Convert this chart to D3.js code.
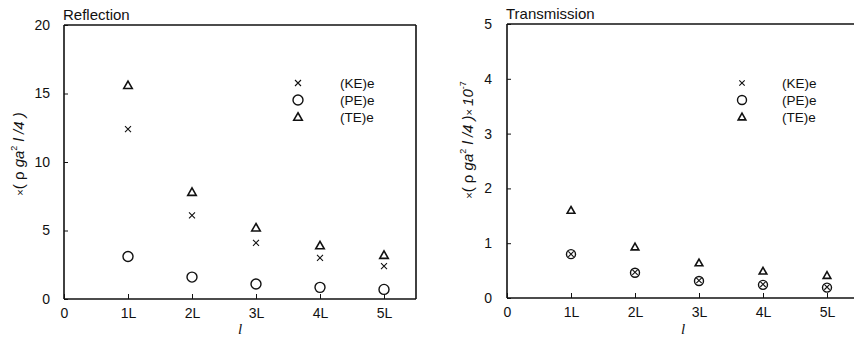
<!DOCTYPE html>
<html>
<head>
<meta charset="utf-8">
<script src="https://cdn.jsdelivr.net/npm/d3@7"></script>
<style>
  body { margin: 0; background: #fff; }
  svg { display: block; font-family: Arial, "Liberation Sans", sans-serif; }
</style>
</head>
<body>
<svg id="chart" width="854" height="341"></svg>
<script>
// ---- data ----
const categories = [1, 2, 3, 4, 5];
const xTickLabels = ["0", "1L", "2L", "3L", "4L", "5L"];
const seriesNames = ["(KE)e", "(PE)e", "(TE)e"];

const reflKE = [12.4, 6.1, 4.1, 3.0, 2.4];
const reflPE = [3.1, 1.6, 1.1, 0.85, 0.7];
const reflTE = [15.6, 7.8, 5.2, 3.9, 3.2];
const reflYTicks = [0, 5, 10, 15, 20];

const tranKE = [0.8, 0.47, 0.32, 0.25, 0.2];
const tranPE = [0.8, 0.46, 0.31, 0.24, 0.19];
const tranTE = [1.6, 0.93, 0.64, 0.49, 0.41];
const tranYTicks = [0, 1, 2, 3, 4, 5];

const svg = d3.select("#chart");
const ink = "#111";

function panel(opts) {
  const g = svg.append("g");
  const x = d3.scaleLinear().domain([0, 5.5]).range([opts.left, opts.left + 352]);
  const y = d3.scaleLinear().domain([0, opts.ymax]).range([opts.bottom, opts.top]);
  const xr = Math.min(x(5.5), 856);

  // frame
  g.append("line").attr("x1", opts.left).attr("x2", xr).attr("y1", opts.top).attr("y2", opts.top)
    .attr("stroke", ink).attr("stroke-width", 1.6);
  g.append("line").attr("x1", opts.left).attr("x2", xr).attr("y1", opts.bottom).attr("y2", opts.bottom)
    .attr("stroke", ink).attr("stroke-width", 1.6);
  g.append("line").attr("x1", opts.left).attr("x2", opts.left).attr("y1", opts.top).attr("y2", opts.bottom)
    .attr("stroke", ink).attr("stroke-width", 1.6);
  if (opts.showRight) {
    g.append("line").attr("x1", xr).attr("x2", xr).attr("y1", opts.top).attr("y2", opts.bottom)
      .attr("stroke", ink).attr("stroke-width", 1.6);
  }

  // axes
  const xAxis = d3.axisBottom(x).tickValues([0, 1, 2, 3, 4, 5])
    .tickFormat((d, i) => xTickLabels[i]).tickSize(-5).tickPadding(9);
  const gx = g.append("g").attr("transform", `translate(0,${opts.bottom})`).call(xAxis);
  gx.select(".domain").remove();
  gx.selectAll("line").attr("stroke", ink).attr("stroke-width", 1);
  gx.selectAll("text").attr("font-size", 14).attr("fill", ink).attr("font-family", "Arial, 'Liberation Sans', sans-serif");

  const yAxis = d3.axisLeft(y).tickValues(opts.yticks).tickFormat(d3.format("d"))
    .tickSize(-4).tickPadding(opts.ypad);
  const gy = g.append("g").attr("transform", `translate(${opts.left},0)`).call(yAxis);
  gy.select(".domain").remove();
  gy.selectAll("line").attr("stroke", ink).attr("stroke-width", 1);
  gy.selectAll("text").attr("font-size", 14).attr("fill", ink).attr("font-family", "Arial, 'Liberation Sans', sans-serif");

  // title
  g.append("text").attr("x", opts.left - 1).attr("y", opts.top - 5)
    .attr("font-size", 15).attr("fill", ink).text(opts.title);

  // x axis title
  g.append("text").attr("x", x(2.75)).attr("y", 334).attr("text-anchor", "middle")
    .attr("font-size", 15).attr("font-style", "italic").attr("font-family", "'Liberation Serif', serif")
    .attr("fill", ink).text("l");

  // y axis title
  const yt = g.append("text")
    .attr("transform", `translate(${opts.ylabX},${opts.ylabY}) rotate(-90)`)
    .attr("text-anchor", "middle").attr("font-size", 15).attr("fill", ink);
  yt.append("tspan").attr("font-size", 11).text("×");
  yt.append("tspan").text("( ρ ");
  yt.append("tspan").attr("font-style", "italic").text("ga");
  yt.append("tspan").attr("font-size", 9).attr("dy", -7).text("2");
  yt.append("tspan").attr("dy", 7).attr("font-style", "italic").text(" l /4 )");
  if (opts.exp) {
    yt.append("tspan").attr("font-size", 11).text("× ");
    yt.append("tspan").attr("font-style", "italic").text("10");
    yt.append("tspan").attr("font-size", 9).attr("dy", -7).text("-7");
  }

  const s = opts.msize;
  function drawCross(sel, cx, cy) {
    const c = s * 0.6;
    sel.append("path").attr("d", `M${cx - c},${cy - c}L${cx + c},${cy + c}M${cx - c},${cy + c}L${cx + c},${cy - c}`)
      .attr("stroke", ink).attr("stroke-width", 1.1).attr("fill", "none");
  }
  function drawCircle(sel, cx, cy) {
    sel.append("circle").attr("cx", cx).attr("cy", cy).attr("r", s)
      .attr("stroke", ink).attr("stroke-width", 1.4).attr("fill", "none");
  }
  function drawTri(sel, cx, cy) {
    const h = s * 0.85;
    sel.append("path").attr("d", `M${cx},${cy - h}L${cx + h},${cy + h * 0.75}L${cx - h},${cy + h * 0.75}Z`)
      .attr("stroke", ink).attr("stroke-width", 1.6).attr("fill", "none");
  }
  const drawers = [drawCross, drawCircle, drawTri];
  const series = [opts.ke, opts.pe, opts.te];

  series.forEach((vals, si) => {
    vals.forEach((v, i) => drawers[si](g, x(categories[i]), y(v)));
  });

  // legend
  seriesNames.forEach((name, i) => {
    const ly = opts.legY + i * 17;
    drawers[i](g, opts.legX, ly);
    g.append("text").attr("x", opts.legX + opts.legGap).attr("y", ly + 5)
      .attr("font-size", 13.5).attr("fill", ink).text(name);
  });
}

panel({
  left: 64, top: 25, bottom: 299, ymax: 20, yticks: reflYTicks,
  title: "Reflection", ypad: 14, ylabX: 24, ylabY: 154, exp: false,
  ke: reflKE, pe: reflPE, te: reflTE, msize: 5, showRight: true,
  legX: 298, legY: 83, legGap: 42
});

panel({
  left: 507, top: 24, bottom: 298, ymax: 5, yticks: tranYTicks,
  title: "Transmission", ypad: 15, ylabX: 473, ylabY: 140, exp: true,
  ke: tranKE, pe: tranPE, te: tranTE, msize: 4.5, showRight: false,
  legX: 742, legY: 83, legGap: 40
});
</script>
</body>
</html>
